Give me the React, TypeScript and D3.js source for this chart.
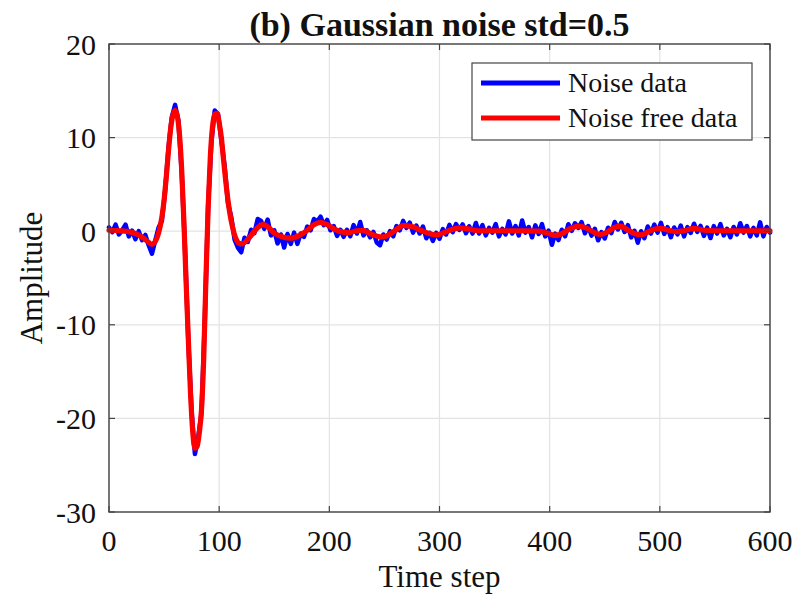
import React from "react";
import * as d3 from "d3";

const titleText = "(b) Gaussian noise std=0.5";
const xLabel = "Time step";
const yLabel = "Amplitude";
const seriesNames = ["Noise data", "Noise free data"];
const seriesColors = ["#0000ff", "#ff0000"];

const xTicks = [0, 100, 200, 300, 400, 500, 600];
const yTicks = [-30, -20, -10, 0, 10, 20];

// Noise-free signal
const cleanTime = [
  0, 10, 20, 26, 32, 36, 39, 42, 45, 48, 50, 52, 54, 56, 58, 60, 62, 64, 66, 68,
  70, 72, 74, 76, 78, 80, 82, 84, 86, 88, 90, 92, 94, 96, 98, 100, 102, 104, 106, 108,
  110, 112, 114, 116, 118, 121, 125, 130, 135, 140, 145, 150, 157, 165, 172, 180, 186, 192, 198, 205,
  212, 218, 225, 230, 238, 246, 252, 260, 267, 275, 283, 292, 298, 305, 312, 319, 326, 335, 345, 360,
  375, 390, 398, 405, 412, 419, 426, 433, 440, 446, 452, 458, 464, 470, 477, 483, 489, 495, 501, 508,
  515, 522, 531, 540, 550, 565, 580, 600,
];
const cleanValue = [
  0.1, 0.05, -0.1, -0.35, -0.8, -1.2, -1.4, -1.1, -0.2, 1.5, 3.3, 5.8, 8.6, 11.0, 12.4, 12.9, 12.3, 10.3, 6.5, 1.0,
  -5.5, -11.5, -17.3, -21.4, -23.2, -23.0, -21.5, -19.0, -13.5, -5.0, 2.5, 8.0, 11.2, 12.5, 12.6, 11.6, 10.0, 7.6, 5.3, 3.3,
  1.7, 0.5, -0.4, -1.0, -1.3, -1.35, -1.0, -0.3, 0.4, 0.7, 0.4, -0.2, -0.6, -0.75, -0.5, 0.1, 0.7, 0.95, 0.7, 0.2,
  -0.1, -0.15, 0.05, 0.1, -0.3, -0.6, -0.5, 0.1, 0.6, 0.5, 0.1, -0.3, -0.4, -0.1, 0.2, 0.35, 0.25, 0.05, 0.05, 0.05,
  0.05, 0.0, -0.2, -0.45, -0.2, 0.3, 0.55, 0.35, -0.1, -0.35, -0.1, 0.35, 0.55, 0.2, -0.25, -0.4, -0.1, 0.2, 0.3, 0.1,
  -0.05, 0.05, 0.3, 0.1, 0.05, 0.05, 0.05, 0.05,
];

// Noisy signal, one value every 3 time steps (0..600)
const noisyStep = 3;
const noisyValue = [
  0.4, -0.1, 0.7, -0.35, 0.1, 0.7, -0.55, 0.05, -0.85, 0.0,
  -0.95, -0.4, -1.5, -2.4, -1.0, 0.4, 1.1, 4.4, 8.9, 12.2,
  13.5, 11.8, 6.3, -1.9, -11.7, -19.3, -23.8, -22.0, -19.4, -9.3,
  2.8, 9.6, 12.9, 12.5, 9.7, 6.9, 3.0, 1.5, -0.9, -1.75,
  -2.25, -0.7, -1.15, 0.15, -0.2, 1.3, 1.1, 0.25, 1.25, -0.45,
  0.1, -1.3, -0.35, -1.75, -0.3, -1.35, -0.15, -1.35, -0.25, -0.6,
  0.5, 0.1, 1.3, 1.05, 1.55, 0.65, 1.2, 0.1, 0.55, -0.5,
  0.15, -0.6, 0.15, -0.55, 0.65, -0.25, 0.98, -0.45, 0.1, -0.65,
  -0.07, -1.2, -1.5, -0.35, -0.9, 0.0, -0.55, 0.55, 0.1, 1.1,
  0.35, 0.92, -0.15, 0.6, -0.25, 0.5, -0.75, -0.17, -1.03, -0.18,
  -0.8, 0.22, -0.35, 0.67, -0.1, 0.77, 0.13, 0.73, -0.22, 0.52,
  -0.25, 0.88, -0.25, 0.65, -0.45, 0.35, -0.15, 0.75, -0.55, 0.25,
  -0.35, 1.05, -0.25, 0.55, -0.45, 1.15, -0.15, 0.45, -0.65, 0.63,
  -0.3, 0.75, -0.55, 0.06, -1.45, -0.25, -0.95, 0.16, -0.55, 0.75,
  0.04, 0.85, 0.35, 0.97, -0.22, 0.55, -0.47, 0.26, -0.97, -0.1,
  -0.78, 0.37, -0.2, 0.98, 0.18, 0.9, -0.08, 0.64, -0.66, 0.05,
  -1.23, 0.0, -0.75, 0.5, -0.25, 0.7, -0.15, 0.9, -0.29, 0.43,
  -0.64, 0.4, -0.34, 0.6, -0.55, 0.43, -0.18, 0.8, -0.07, 0.57,
  -0.5, 0.38, -0.73, 0.55, -0.25, 0.75, -0.45, 0.25, -0.65, 0.45,
  -0.35, 0.85, -0.15, 0.55, -0.55, 0.35, -0.45, 0.95, -0.55, 0.45,
  -0.15,
];

const W = 799;
const H = 600;
const M = { left: 109, right: 770, top: 44, bottom: 512 };
const FONT = "'Liberation Serif', 'Times New Roman', serif";
const AXIS = "#444444";
const GRID = "#e3e3e3";

export default function App() {
  const x = d3.scaleLinear().domain([0, 600]).range([M.left, M.right]);
  const y = d3.scaleLinear().domain([-30, 20]).range([M.bottom, M.top]);

  const noisyPts: [number, number][] = noisyValue.map((v, i) => [i * noisyStep, v]);
  const cleanPts: [number, number][] = cleanTime.map((t, i) => [t, cleanValue[i]]);

  const lineLin = d3
    .line<[number, number]>()
    .x((d) => x(d[0]))
    .y((d) => y(d[1]))
    .curve(d3.curveLinear);
  const lineSmooth = d3
    .line<[number, number]>()
    .x((d) => x(d[0]))
    .y((d) => y(d[1]))
    .curve(d3.curveMonotoneX);

  const tickLen = 6;
  const legend = { x0: 472, y0: 63, x1: 752, y1: 140 };
  const legendRows = [83, 118];

  return (
    <svg
      width={W}
      height={H}
      style={{ position: "absolute", left: 0, top: 0, background: "#fff" }}
    >
      <rect x={0} y={0} width={W} height={H} fill="#fff" />
      {/* grid */}
      {xTicks.map((t) => (
        <line key={"gx" + t} x1={x(t)} x2={x(t)} y1={M.top} y2={M.bottom} stroke={GRID} strokeWidth={1.2} />
      ))}
      {yTicks.map((t) => (
        <line key={"gy" + t} x1={M.left} x2={M.right} y1={y(t)} y2={y(t)} stroke={GRID} strokeWidth={1.2} />
      ))}
      {/* data */}
      <path d={lineLin(noisyPts) || ""} fill="none" stroke={seriesColors[0]} strokeWidth={4.5} strokeLinejoin="round" strokeLinecap="round" />
      <path d={lineSmooth(cleanPts) || ""} fill="none" stroke={seriesColors[1]} strokeWidth={5.2} strokeLinejoin="round" strokeLinecap="round" />
      {/* box */}
      <rect x={M.left} y={M.top} width={M.right - M.left} height={M.bottom - M.top} fill="none" stroke={AXIS} strokeWidth={1.4} />
      {/* ticks */}
      {xTicks.map((t) => (
        <g key={"tx" + t}>
          <line x1={x(t)} x2={x(t)} y1={M.bottom} y2={M.bottom - tickLen} stroke={AXIS} strokeWidth={1.2} />
          <line x1={x(t)} x2={x(t)} y1={M.top} y2={M.top + tickLen} stroke={AXIS} strokeWidth={1.2} />
          <text x={x(t)} y={551} textAnchor="middle" fontFamily={FONT} fontSize={30} fill="#111">
            {t}
          </text>
        </g>
      ))}
      {yTicks.map((t) => (
        <g key={"ty" + t}>
          <line x1={M.left} x2={M.left + tickLen} y1={y(t)} y2={y(t)} stroke={AXIS} strokeWidth={1.2} />
          <line x1={M.right} x2={M.right - tickLen} y1={y(t)} y2={y(t)} stroke={AXIS} strokeWidth={1.2} />
          <text x={96} y={y(t)} dy="0.35em" textAnchor="end" fontFamily={FONT} fontSize={30} fill="#111">
            {t}
          </text>
        </g>
      ))}
      {/* labels */}
      <text x={(M.left + M.right) / 2} y={587} textAnchor="middle" fontFamily={FONT} fontSize={31} fill="#111">
        {xLabel}
      </text>
      <text
        transform={`translate(42, ${(M.top + M.bottom) / 2}) rotate(-90)`}
        textAnchor="middle"
        fontFamily={FONT}
        fontSize={31}
        fill="#111"
      >
        {yLabel}
      </text>
      <text x={(M.left + M.right) / 2} y={36} textAnchor="middle" fontFamily={FONT} fontSize={34} fontWeight="bold" fill="#111">
        {titleText}
      </text>
      {/* legend */}
      <rect x={legend.x0} y={legend.y0} width={legend.x1 - legend.x0} height={legend.y1 - legend.y0} fill="#fff" stroke={AXIS} strokeWidth={1.2} />
      {seriesNames.map((name, i) => (
        <g key={name}>
          <line x1={481} x2={560} y1={legendRows[i]} y2={legendRows[i]} stroke={seriesColors[i]} strokeWidth={5} />
          <text x={568} y={legendRows[i]} dy="0.33em" fontFamily={FONT} fontSize={28} fill="#111">
            {name}
          </text>
        </g>
      ))}
    </svg>
  );
}
